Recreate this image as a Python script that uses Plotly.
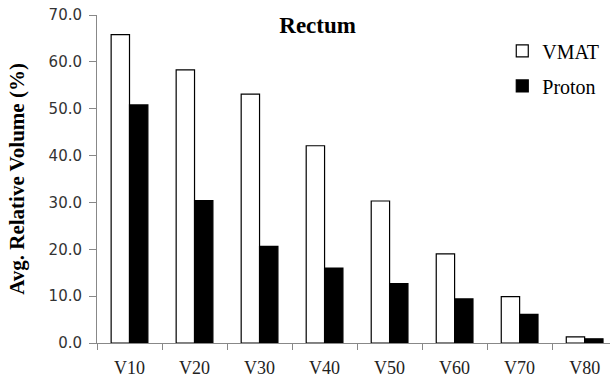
import plotly.graph_objects as go

categories = ["V10", "V20", "V30", "V40", "V50", "V60", "V70", "V80"]
vmat = [65.8, 58.3, 53.1, 42.1, 30.3, 19.0, 9.9, 1.3]
proton = [50.8, 30.4, 20.6, 16.0, 12.7, 9.4, 6.1, 0.9]
y_ticks = [0, 10, 20, 30, 40, 50, 60, 70]
y_tick_labels = [f"{v:.1f}" for v in y_ticks]

serif = "Liberation Serif, Times New Roman, serif"
sans = "DejaVu Sans, Verdana, sans-serif"

fig = go.Figure()
fig.add_trace(go.Bar(x=categories, y=vmat, name="VMAT", legendgroup="a",
                     marker=dict(color="white", line=dict(color="black", width=1.2))))
fig.add_trace(go.Bar(x=categories, y=proton, name="Proton", legendgroup="b",
                     marker=dict(color="black", line=dict(color="black", width=1.2))))

fig.update_layout(
    width=610, height=379,
    margin=dict(l=97, r=0, t=15, b=36, autoexpand=False),
    paper_bgcolor="white", plot_bgcolor="white",
    barmode="group", bargap=0.435, bargroupgap=0,
    font=dict(family=serif, color="#222", size=13),
    title=dict(text="<b>Rectum</b>", x=0.43, xref="paper", xanchor="center",
               y=1 - 25 / 379, yref="container", yanchor="middle",
               font=dict(family=serif, size=23, color="black")),
    legend=dict(x=0.79, y=0.95, xanchor="left", yanchor="top",
                font=dict(family=serif, size=20, color="black"),
                tracegroupgap=6, bgcolor="rgba(0,0,0,0)"),
    xaxis=dict(range=[-0.5, 7.39], showline=True, linecolor="#888", linewidth=1,
               ticks="outside", tickson="boundaries", ticklen=6, tickcolor="#888",
               automargin=False, ticklabelstandoff=8,
               tickfont=dict(family=serif, size=18, color="#222"), showgrid=False),
    yaxis=dict(range=[0, 70], tickvals=y_ticks, ticktext=y_tick_labels,
               showline=True, linecolor="#888", linewidth=1, automargin=False,
               ticks="outside", ticklen=7, tickcolor="#888", showgrid=False,
               zeroline=False, ticklabelstandoff=4,
               tickfont=dict(family=sans, size=15, color="#333"),
               title=dict(text="<b>Avg. Relative Volume (%)</b>", standoff=18,
                          font=dict(family=serif, size=21, color="black"))),
)

fig.write_html("out.html", config={"displayModeBar": False},
               post_script="document.body.style.margin='0';")
